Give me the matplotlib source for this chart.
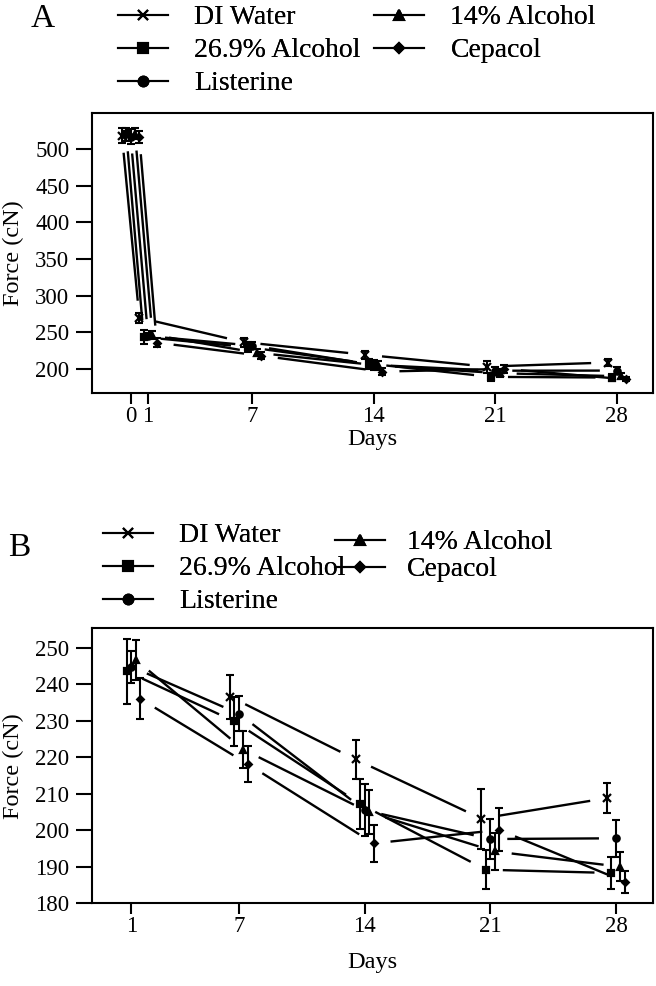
import matplotlib
matplotlib.use('Agg')
import matplotlib.pyplot as plt
import numpy as np
from matplotlib.lines import Line2D

plt.rcParams['font.family'] = ['Liberation Serif', 'DejaVu Serif']

# data
days = [0, 1, 7, 14, 21, 28]
labels = ['DI Water', '26.9% Alcohol', 'Listerine', '14% Alcohol', 'Cepacol']
markers = ['x', 's', 'o', '^', 'D']
offsets = [-0.5, -0.25, 0, 0.25, 0.5]

di_water = [518, 270, 236.6, 219.4, 203.2, 208.8]
di_water_err = [10, 7, 6, 5.3, 8.2, 4.2]
alc_269 = [520, 243.5, 229.8, 207.2, 189.2, 188.3]
alc_269_err = [9, 9, 6.7, 6.8, 5.4, 4.5]
listerine = [517, 244.8, 231.9, 205.5, 197.6, 197.8]
listerine_err = [10, 4.4, 4.8, 7.2, 5.4, 5.1]
alc_14 = [521, 246.7, 222.1, 204.9, 194.2, 190.0]
alc_14_err = [8, 5.5, 5.0, 6.0, 5.1, 4.0]
cepacol = [516, 236.0, 218.1, 196.4, 200.1, 185.9]
cepacol_err = [8, 5.6, 4.9, 5.0, 5.9, 3.0]

values = [di_water, alc_269, listerine, alc_14, cepacol]
errors = [di_water_err, alc_269_err, listerine_err, alc_14_err, cepacol_err]

# first day index shown in panel B for each series
b_start = [2, 1, 1, 1, 1]

W, H = 656, 986
fig = plt.figure(figsize=(W / 100, H / 100), dpi=100)
axA = fig.add_axes([92.3 / W, 1 - 393.3 / H, 561 / W, 280 / H])
axB = fig.add_axes([92.3 / W, 1 - 903.3 / H, 561 / W, 275 / H])

axA.set_xlim(-2.21, 30.1)
axA.set_ylim(166.8, 548.7)
axB.set_xlim(-1.17, 30.08)
axB.set_ylim(180, 255.3)

GAP = 17  # px left open around each point, like R type="b"


def gap_line(ax, xs, ys):
    pts = ax.transData.transform(np.column_stack([xs, ys]))
    inv = ax.transData.inverted()
    for p, q in zip(pts[:-1], pts[1:]):
        d = q - p
        L = np.hypot(*d)
        if L <= 2 * GAP:
            continue
        u = d / L
        seg = inv.transform(np.array([p + u * GAP, q - u * GAP]))
        ax.plot(seg[:, 0], seg[:, 1], color='black', lw=1.7,
                solid_capstyle='butt')


def draw(ax, starts):
    for i in range(5):
        s = starts[i]
        x = np.array(days[s:]) + offsets[i]
        y = np.array(values[i][s:])
        e = np.array(errors[i][s:])
        gap_line(ax, x, y)
        ax.errorbar(x, y, yerr=e, fmt='none', ecolor='black', elinewidth=1.5,
                    capsize=2.6, capthick=1.5)
        ms = {'x': 5.5, 'D': 3.4}.get(markers[i], 4.6)
        ax.plot(x, y, ls='none', marker=markers[i], ms=ms, color='black',
                mew=1.6)


draw(axA, [0, 0, 0, 0, 0])
draw(axB, b_start)

for ax in (axA, axB):
    for sp in ax.spines.values():
        sp.set_linewidth(1.5)
    ax.tick_params(axis='y', direction='out', length=11.5, width=1.5, pad=5,
                   labelsize=16.5, color='black')
    ax.tick_params(axis='x', direction='out', length=8, width=1.5, pad=1.5,
                   labelsize=16.5, color='black')
    ax.set_xlabel('Days', fontsize=17.5, va='center')
    ax.set_ylabel('Force (cN)', fontsize=17.5, va='center')
    ax.yaxis.set_label_coords(-0.141, 0.5)

axA.set_xticks([0, 1, 7, 14, 21, 28])
axA.set_yticks(range(200, 501, 50))
axB.set_xticks([1, 7, 14, 21, 28])
axB.set_yticks(range(180, 251, 10))
axA.xaxis.set_label_coords(0.5, -0.166)
axB.xaxis.set_label_coords(0.5, -0.217)

handles = [Line2D([0], [0], color='black', lw=1.5, marker=m,
                  ms=(5 if m == 'D' else 7), mew=1.5) for m in markers]

leg_kw = dict(loc='upper left', frameon=False, fontsize=20,
              handlelength=1.8, handletextpad=0.95, labelspacing=0.27,
              borderpad=0, borderaxespad=0)


def add_legend(idx, x_px, top_px, **kw):
    opts = dict(leg_kw)
    opts.update(kw)
    leg = fig.legend([handles[k] for k in idx], [labels[k] for k in idx],
                     bbox_to_anchor=(x_px / W, 1 - top_px / H), **opts)
    fig.add_artist(leg)


# panel A legend, two columns
add_legend([0, 1, 2], 118, 5)
add_legend([3, 4], 374, 5)
# panel B legend
add_legend([0, 1, 2], 103, 523)
add_legend([3, 4], 335, 530, handletextpad=0.8, labelspacing=0.05)

fig.text(43 / W, 1 - 19 / H, 'A', fontsize=24, ha='center', va='center')
fig.text(19 / W, 1 - 548 / H, 'B', fontsize=24, ha='center', va='center')

fig.savefig('out.png', dpi=100, facecolor='white')
